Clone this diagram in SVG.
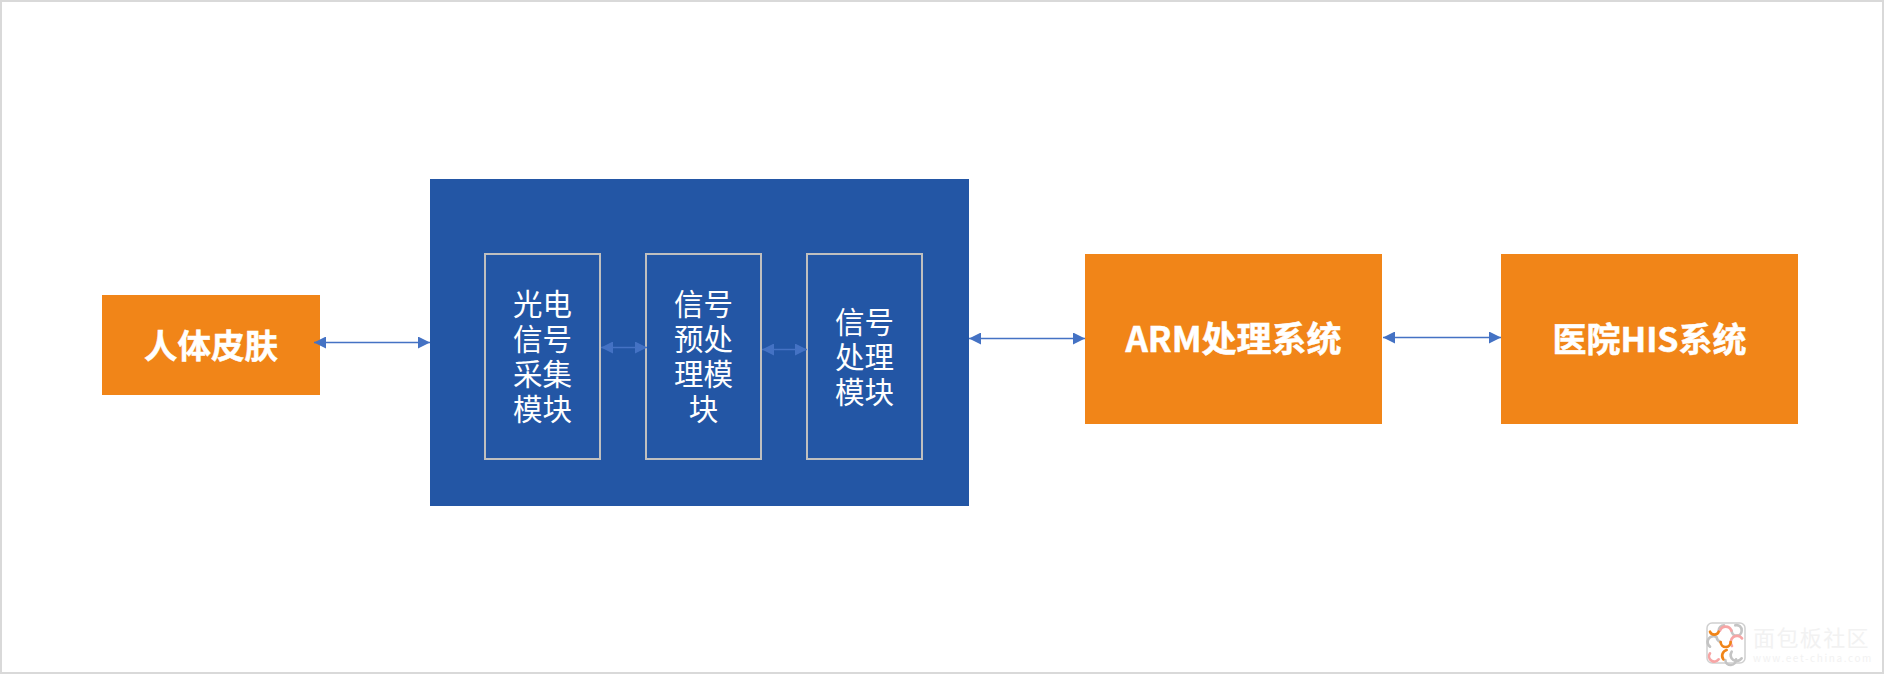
<svg xmlns="http://www.w3.org/2000/svg" width="1884" height="674" viewBox="0 0 1884 674">
<style>
.o{fill:#f18518}
.i{fill:#2356a5;stroke:#bfbfbf;stroke-width:2}
.b{font-family:"Noto Sans CJK SC","Noto Sans",sans-serif;font-weight:bold;fill:#fff;stroke:#fff;stroke-width:.5;text-anchor:middle}
.t{font:29.5px "Noto Sans CJK SC","Noto Sans",sans-serif;fill:#fff;text-anchor:middle}
.c{stroke:#4472c4;stroke-width:1.3;fill:none;marker-start:url(#a);marker-end:url(#a)}
.wm{font-family:"Noto Sans CJK SC","Noto Sans",sans-serif;fill:#f2f2f2;text-anchor:middle}
.l{fill:none;stroke-width:8;stroke-linecap:round}
</style>
<defs>
<marker id="a" viewBox="0 0 12 12" refX="12" refY="6" markerWidth="12" markerHeight="12" markerUnits="userSpaceOnUse" orient="auto-start-reverse"><path d="M0 0L12 6L0 12Z" fill="#4472c4"/></marker>
</defs>
<rect x="1" y="1" width="1882" height="672" fill="#fff" stroke="#d9d9d9" stroke-width="2"/>
<g id="skin"><rect class="o" x="102" y="295" width="218" height="100"/><text class="b" x="211" y="358" font-size="33.5">人体皮肤</text></g>
<g id="module"><rect x="430" y="179" width="539" height="327" fill="#2356a5"/></g>
<g id="acquire"><rect class="i" x="485" y="254" width="115" height="205"/>
<text class="t"><tspan x="542.5" y="315">光电</tspan><tspan x="542.5" y="350">信号</tspan><tspan x="542.5" y="385">采集</tspan><tspan x="542.5" y="420">模块</tspan></text></g>
<g id="preprocess"><rect class="i" x="646" y="254" width="115" height="205"/>
<text class="t"><tspan x="703.5" y="315">信号</tspan><tspan x="703.5" y="350">预处</tspan><tspan x="703.5" y="385">理模</tspan><tspan x="703.5" y="420">块</tspan></text></g>
<g id="process"><rect class="i" x="807" y="254" width="115" height="205"/>
<text class="t"><tspan x="864.5" y="333">信号</tspan><tspan x="864.5" y="368">处理</tspan><tspan x="864.5" y="403">模块</tspan></text></g>
<g id="arm"><rect class="o" x="1085" y="254" width="297" height="170"/><text class="b" x="1233.5" y="352" font-size="35">ARM处理系统</text></g>
<g id="his"><rect class="o" x="1501" y="254" width="297" height="170"/><text class="b" x="1649.5" y="352" font-size="34">医院HIS系统</text></g>
<g id="connectors">
<path class="c" d="M314 342.5H430"/>
<path class="c" d="M969 338.5H1085"/>
<path class="c" d="M1383 337.5H1501"/>
<path class="c" d="M601 347.5H647"/>
<path class="c" d="M762 349.5H807"/>
</g>
<g id="watermark">
<rect x="1707" y="623" width="38" height="40" rx="5" fill="#fff" stroke="#d0d0d0" stroke-width="1.5"/>
<g transform="translate(1660 590) scale(.3333)">
<path class="l" stroke="#c4c4c4" d="M176 122A16 16 0 0 1 192 106M215 122A15 15 0 0 0 245 122A15 15 0 0 0 226 106M150 170A16 16 0 0 1 170 142A16 16 0 0 0 180 155M215 185A16 16 0 0 0 245 205M196 210A16 16 0 0 0 228 208"/>
<path class="l" stroke="#f7a5a5" d="M180 122A18 18 0 0 1 214 122M216 168A16 16 0 0 1 246 145M150 190A14 14 0 0 0 176 208"/>
<path class="l" stroke="#f18518" d="M150 125A14 14 0 0 0 176 125M182 156A15 15 0 0 0 212 156M200 180A18 18 0 0 0 190 208"/>
</g>
<text class="wm" x="1811.5" y="646" font-size="22" letter-spacing="1.4">面包板社区</text>
<text class="wm" x="1813" y="662" font-size="10" letter-spacing="1.6">www.eet-china.com</text>
</g>
</svg>
